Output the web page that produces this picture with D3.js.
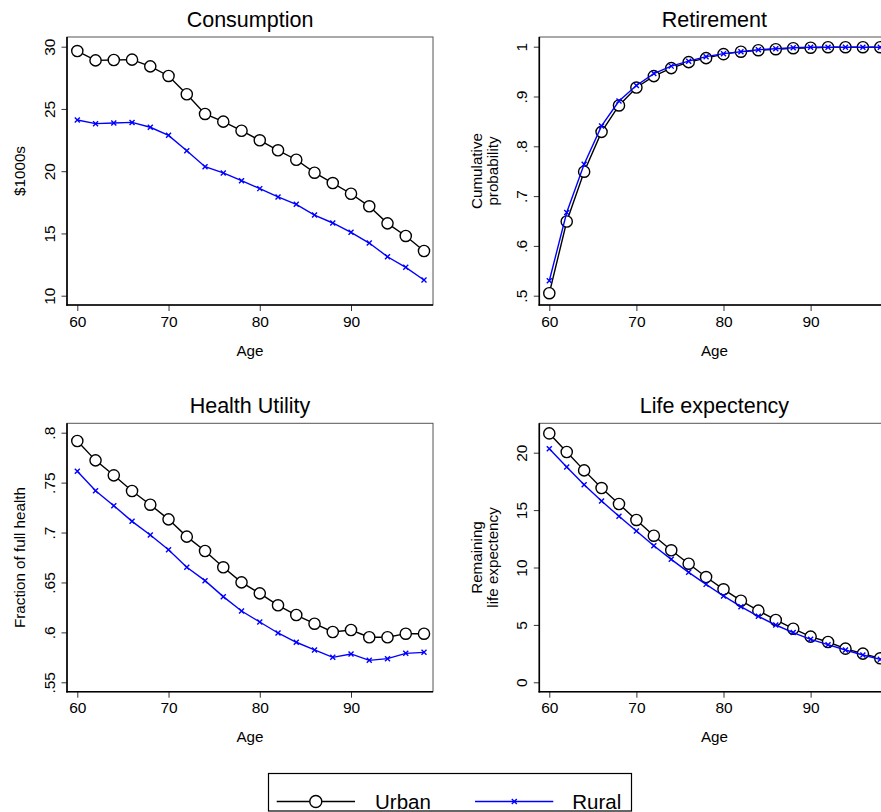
<!DOCTYPE html>
<html>
<head>
<meta charset="utf-8">
<script src="https://cdn.jsdelivr.net/npm/d3@7"></script>
<style>
  body { margin: 0; background: #fff; }
  svg { display: block; font-family: "Liberation Sans", Arial, sans-serif; }
  .tick line { stroke: #333; }
  .domain { display: none; }
</style>
</head>
<body>
<script>
// Data
const ages = [60, 62, 64, 66, 68, 70, 72, 74, 76, 78, 80, 82, 84, 86, 88, 90, 92, 94, 96, 98];

const consUrban = [29.65, 28.9, 28.93, 28.96, 28.42, 27.65, 26.18, 24.6, 23.98, 23.25,
                   22.48, 21.68, 20.92, 19.88, 19.05, 18.19, 17.18, 15.81, 14.8, 13.59];
const consRural = [24.11, 23.82, 23.87, 23.92, 23.53, 22.88, 21.65, 20.36, 19.86, 19.24,
                   18.6, 17.93, 17.34, 16.48, 15.84, 15.09, 14.23, 13.13, 12.28, 11.26];

const retUrban = [0.505, 0.649, 0.749, 0.829, 0.882, 0.918, 0.941, 0.957, 0.969, 0.977,
                  0.985, 0.99, 0.993, 0.995, 0.997, 0.998, 0.999, 0.999, 0.999, 0.999];
const retRural = [0.53, 0.667, 0.764, 0.841, 0.891, 0.922, 0.946, 0.961, 0.971, 0.98,
                  0.986, 0.99, 0.994, 0.996, 0.998, 0.999, 0.999, 0.999, 0.999, 0.999];

const healthUrban = [0.7917, 0.7723, 0.7573, 0.7416, 0.7279, 0.7132, 0.6959, 0.6815, 0.6652, 0.6501,
                     0.6391, 0.6271, 0.6174, 0.6087, 0.6004, 0.6024, 0.5951, 0.5951, 0.5987, 0.5987];
const healthRural = [0.7613, 0.7419, 0.7269, 0.7112, 0.6975, 0.6828, 0.6652, 0.6518, 0.6358, 0.6214,
                     0.6104, 0.5994, 0.5901, 0.5824, 0.575, 0.5784, 0.572, 0.5737, 0.579, 0.58];

const lifeUrban = [21.68, 20.06, 18.46, 16.92, 15.53, 14.14, 12.77, 11.5, 10.33, 9.17,
                   8.1, 7.11, 6.24, 5.43, 4.67, 3.98, 3.51, 2.93, 2.5, 2.09];
const lifeRural = [20.35, 18.75, 17.21, 15.79, 14.46, 13.18, 11.9, 10.71, 9.58, 8.53,
                   7.52, 6.59, 5.75, 4.99, 4.33, 3.74, 3.28, 2.81, 2.38, 2.0];

const xTicks = [60, 70, 80, 90];
const seriesNames = ['Urban', 'Rural'];

const panels = [
  { title: 'Consumption', ytitle: ['$1000s'], urban: consUrban, rural: consRural,
    yTicks: [10, 15, 20, 25, 30], fmt: d => d,
    box: [67, 37, 433, 305], xr: [77.3, 424], yd: [10, 30], yr: [295.7, 46.7] },
  { title: 'Retirement', ytitle: ['Cumulative', 'probability'], urban: retUrban, rural: retRural,
    yTicks: [0.5, 0.6, 0.7, 0.8, 0.9, 1], fmt: d => d === 1 ? '1' : String(d).replace('0.', '.'),
    box: [539.3, 37, 889.5, 305], xr: [549.3, 880.3], yd: [0.5, 1], yr: [295.7, 46.7] },
  { title: 'Health Utility', ytitle: ['Fraction of full health'], urban: healthUrban, rural: healthRural,
    yTicks: [0.55, 0.6, 0.65, 0.7, 0.75, 0.8], fmt: d => String(d).replace('0.', '.'),
    box: [67, 423.3, 433, 691.7], xr: [77.3, 424], yd: [0.55, 0.8], yr: [682.3, 432.7] },
  { title: 'Life expectency', ytitle: ['Remaining', 'life expectency'], urban: lifeUrban, rural: lifeRural,
    yTicks: [0, 5, 10, 15, 20], fmt: d => d,
    box: [539.3, 423.3, 889.5, 691.7], xr: [549.3, 880.3], yd: [0, 20], yr: [682.3, 452.7] }
];

const W = 881, H = 812;
const blue = '#0000ff';

const svg = d3.select('body').append('svg')
  .attr('width', W)
  .attr('height', H);

svg.append('rect').attr('width', W).attr('height', H).attr('fill', '#fff');

function drawX(g, x, y, s) {
  g.append('path')
    .attr('d', `M${x - s},${y - s}L${x + s},${y + s}M${x - s},${y + s}L${x + s},${y - s}`)
    .attr('stroke', blue)
    .attr('stroke-width', 1.4)
    .attr('fill', 'none');
}

panels.forEach(p => {
  const [x0, y0, x1, y1] = p.box;
  const x = d3.scaleLinear().domain([60, 98]).range(p.xr);
  const y = d3.scaleLinear().domain(p.yd).range(p.yr);
  const g = svg.append('g');

  // plot region outline
  g.append('rect')
    .attr('x', x0).attr('y', y0)
    .attr('width', x1 - x0).attr('height', y1 - y0)
    .attr('fill', 'none')
    .attr('stroke', '#555')
    .attr('stroke-width', 1);

  // title
  g.append('text')
    .attr('x', (x0 + x1) / 2)
    .attr('y', y0 - 10)
    .attr('text-anchor', 'middle')
    .attr('font-size', 21.5)
    .text(p.title);

  // x axis
  const xa = g.append('g')
    .attr('transform', `translate(0,${y1})`)
    .call(d3.axisBottom(x).tickValues(xTicks).tickSize(6).tickSizeOuter(0));
  xa.selectAll('text')
    .attr('y', 21.7).attr('dy', null)
    .attr('font-size', 15.5)
    .attr('font-family', 'Liberation Sans, Arial, sans-serif')
    .attr('fill', '#000');

  g.append('text')
    .attr('x', (x0 + x1) / 2)
    .attr('y', y1 + 50.7)
    .attr('text-anchor', 'middle')
    .attr('font-size', 15.2)
    .text('Age');

  // y axis
  const ya = g.append('g')
    .attr('transform', `translate(${x0},0)`)
    .call(d3.axisLeft(y).tickValues(p.yTicks).tickFormat(p.fmt).tickSize(5.5).tickSizeOuter(0));
  ya.selectAll('text')
    .attr('x', null).attr('dy', null)
    .attr('transform', 'translate(-12.5,0) rotate(-90)')
    .attr('text-anchor', 'middle')
    .attr('font-size', 15.5)
    .attr('font-family', 'Liberation Sans, Arial, sans-serif')
    .attr('fill', '#000');

  // axis lines
  g.append('line').attr('x1', x0).attr('x2', x0).attr('y1', y0).attr('y2', y1 + 0.75)
    .attr('stroke', '#000').attr('stroke-width', 1.6);
  g.append('line').attr('x1', x0 - 0.75).attr('x2', x1).attr('y1', y1).attr('y2', y1)
    .attr('stroke', '#000').attr('stroke-width', 1.6);

  // y title
  const yc = (y0 + y1) / 2;
  const n = p.ytitle.length;
  p.ytitle.forEach((t, i) => {
    const bx = n === 1 ? x0 - 42.5 : x0 - 57 + i * 16;
    g.append('text')
      .attr('transform', `translate(${bx},${yc}) rotate(-90)`)
      .attr('text-anchor', 'middle')
      .attr('font-size', 15.2)
      .text(t);
  });

  const line = d3.line().x((d, i) => x(ages[i])).y(d => y(d));

  // urban
  g.append('path').datum(p.urban)
    .attr('d', line)
    .attr('fill', 'none').attr('stroke', '#000').attr('stroke-width', 1.4);
  g.selectAll('circle.u').data(p.urban).enter().append('circle')
    .attr('class', 'u')
    .attr('cx', (d, i) => x(ages[i]))
    .attr('cy', d => y(d))
    .attr('r', 5.6)
    .attr('fill', '#fff').attr('stroke', '#000').attr('stroke-width', 1.4);

  // rural
  g.append('path').datum(p.rural)
    .attr('d', line)
    .attr('fill', 'none').attr('stroke', blue).attr('stroke-width', 1.4);
  p.rural.forEach((d, i) => drawX(g, x(ages[i]), y(d), 2.5));
});

// legend
const lg = svg.append('g');
lg.append('rect')
  .attr('x', 268.5).attr('y', 773.5)
  .attr('width', 363).attr('height', 37.5)
  .attr('fill', '#fff').attr('stroke', '#000').attr('stroke-width', 1.2);

const ly = 801.5;
lg.append('line').attr('x1', 276.7).attr('x2', 355).attr('y1', ly).attr('y2', ly)
  .attr('stroke', '#000').attr('stroke-width', 1.4);
lg.append('circle').attr('cx', 315.8).attr('cy', ly).attr('r', 6)
  .attr('fill', '#fff').attr('stroke', '#000').attr('stroke-width', 1.4);
lg.append('text').attr('x', 375).attr('y', ly + 7.3).attr('font-size', 20.5).text(seriesNames[0]);

lg.append('line').attr('x1', 475).attr('x2', 553.3).attr('y1', ly).attr('y2', ly)
  .attr('stroke', blue).attr('stroke-width', 1.4);
drawX(lg, 514.3, ly, 2.5);
lg.append('text').attr('x', 572.3).attr('y', ly + 7.3).attr('font-size', 20.5).text(seriesNames[1]);
</script>
</body>
</html>
